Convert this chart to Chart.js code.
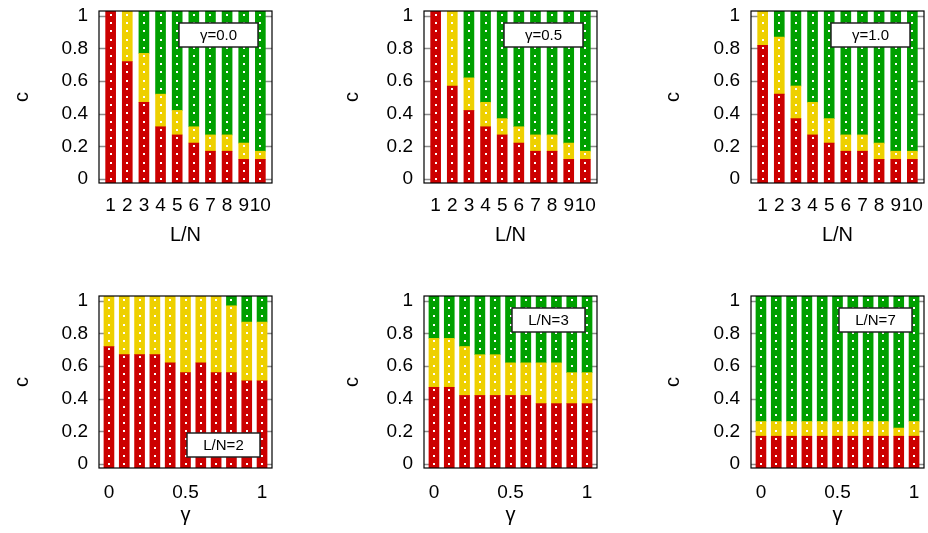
<!DOCTYPE html>
<html>
<head>
<meta charset="utf-8">
<script src="https://cdn.jsdelivr.net/npm/chart.js@4.4.1/dist/chart.umd.min.js"></script>
<style>
    body { margin: 0; background: #fff; width: 928px; height: 533px; overflow: hidden; position: relative; }
    canvas { position: absolute; }
</style>
</head>
<body>
<canvas id="p1" width="269" height="253" style="left:9px;top:0px"></canvas>
<canvas id="p2" width="269" height="253" style="left:334px;top:0px"></canvas>
<canvas id="p3" width="269" height="253" style="left:661px;top:0px"></canvas>
<canvas id="p4" width="269" height="245" style="left:9px;top:285px"></canvas>
<canvas id="p5" width="269" height="245" style="left:334px;top:285px"></canvas>
<canvas id="p6" width="269" height="245" style="left:661px;top:285px"></canvas>
<script>
const FONT = '"Liberation Sans", Arial, Helvetica, sans-serif';
const RED = "#cc0000", YELLOW = "#eed000", GREEN = "#00a000";

// ------------------- DATA -------------------
const lnValues = [1, 2, 3, 4, 5, 6, 7, 8, 9, 10];
const lnTickLabels = ["1", "2", "3", "4", "5", "6", "7", "8", "9", "10"];
const gammaValues = [0, 0.1, 0.2, 0.3, 0.4, 0.5, 0.6, 0.7, 0.8, 0.9, 1];
const gammaTicks = [0, 0.5, 1];
const gammaTickLabels = ["0", "0.5", "1"];
const yTicks = [0, 0.2, 0.4, 0.6, 0.8, 1];
const yTickLabels = ["0", "0.2", "0.4", "0.6", "0.8", "1"];

// gamma = 0.0
const g00Red    = [1.00, 0.72, 0.47, 0.32, 0.27, 0.22, 0.17, 0.17, 0.12, 0.12];
const g00Yellow = [0.00, 0.28, 0.30, 0.20, 0.15, 0.10, 0.10, 0.10, 0.10, 0.05];
const g00Green  = [0.00, 0.00, 0.23, 0.48, 0.58, 0.68, 0.73, 0.73, 0.78, 0.83];
// gamma = 0.5
const g05Red    = [1.00, 0.57, 0.42, 0.32, 0.27, 0.22, 0.17, 0.17, 0.12, 0.12];
const g05Yellow = [0.00, 0.43, 0.20, 0.15, 0.10, 0.10, 0.10, 0.10, 0.10, 0.05];
const g05Green  = [0.00, 0.00, 0.38, 0.53, 0.63, 0.68, 0.73, 0.73, 0.78, 0.83];
// gamma = 1.0
const g10Red    = [0.82, 0.52, 0.37, 0.27, 0.22, 0.17, 0.17, 0.12, 0.12, 0.12];
const g10Yellow = [0.18, 0.35, 0.20, 0.20, 0.15, 0.10, 0.10, 0.10, 0.05, 0.05];
const g10Green  = [0.00, 0.13, 0.43, 0.53, 0.63, 0.73, 0.73, 0.78, 0.83, 0.83];
// L/N = 2
const ln2Red    = [0.72, 0.67, 0.67, 0.67, 0.62, 0.56, 0.62, 0.56, 0.56, 0.51, 0.51];
const ln2Yellow = [0.28, 0.33, 0.33, 0.33, 0.38, 0.44, 0.38, 0.44, 0.41, 0.36, 0.36];
const ln2Green  = [0.00, 0.00, 0.00, 0.00, 0.00, 0.00, 0.00, 0.00, 0.03, 0.13, 0.13];
// L/N = 3
const ln3Red    = [0.47, 0.47, 0.42, 0.42, 0.42, 0.42, 0.42, 0.37, 0.37, 0.37, 0.37];
const ln3Yellow = [0.30, 0.30, 0.30, 0.25, 0.25, 0.20, 0.20, 0.25, 0.25, 0.19, 0.19];
const ln3Green  = [0.23, 0.23, 0.28, 0.33, 0.33, 0.38, 0.38, 0.38, 0.38, 0.44, 0.44];
// L/N = 7
const ln7Red    = [0.17, 0.17, 0.17, 0.17, 0.17, 0.17, 0.17, 0.17, 0.17, 0.17, 0.17];
const ln7Yellow = [0.09, 0.09, 0.09, 0.09, 0.09, 0.09, 0.09, 0.09, 0.09, 0.05, 0.09];
const ln7Green  = [0.74, 0.74, 0.74, 0.74, 0.74, 0.74, 0.74, 0.74, 0.74, 0.78, 0.74];

const Y_MIN = -0.025, Y_MAX = 1.03;

// ------------------- PLUGIN: gnuplot look -------------------
const gnuFrame = {
    id: "gnuFrame",
    beforeDatasetsDraw(chart) {
        const { ctx, chartArea: a, scales: { y } } = chart;
        ctx.save();
        ctx.strokeStyle = "#8c8c8c";
        ctx.lineWidth = 1.3;
        ctx.beginPath();
        for (const v of yTicks) {
            const py = Math.round(y.getPixelForValue(v)) + 0.5;
            ctx.moveTo(a.left, py); ctx.lineTo(a.left + 7, py);
            ctx.moveTo(a.right, py); ctx.lineTo(a.right - 7, py);
        }
        ctx.stroke();
        ctx.restore();
    },
    afterDatasetsDraw(chart, args, opts) {
        const { ctx, chartArea: a } = chart;
        ctx.save();
        // white dots inside the bars
        ctx.fillStyle = "#fff";
        chart.data.datasets.forEach((ds, i) => {
            chart.getDatasetMeta(i).data.forEach(el => {
                const t = Math.min(el.y, el.base), b = Math.max(el.y, el.base);
                for (let yy = a.top + 4; yy < a.bottom; yy += 8.2) {
                    if (yy >= t + 1 && yy <= b - 1) ctx.fillRect(Math.round(el.x) - 1, Math.round(yy) - 1, 2, 2);
                }
            });
        });
        // frame
        ctx.strokeStyle = "#000";
        ctx.lineWidth = 1.2;
        ctx.strokeRect(a.left, a.top, a.right - a.left, a.bottom - a.top);
        // key box
        const k = opts.key;
        const bx = a.left + k.dx, by = a.top + k.dy;
        ctx.fillStyle = "#fff";
        ctx.fillRect(bx, by, k.w, 24);
        ctx.strokeStyle = "#222";
        ctx.lineWidth = 1.5;
        ctx.strokeRect(bx, by, k.w, 24);
        ctx.fillStyle = "#000";
        ctx.font = "15px " + FONT;
        ctx.textAlign = "center";
        ctx.textBaseline = "middle";
        ctx.fillText(k.text, bx + k.w / 2, by + 13);
        ctx.restore();
    }
};

// ------------------- BUILD PANELS -------------------
function stackRanges(xs, series) {
    // turn the three stacked fractions into floating [from, to] bars
    const cum = xs.map(() => 0);
    return series.map(vals => xs.map((x, i) => {
        const from = cum[i], to = cum[i] + vals[i];
        cum[i] = to;
        if (vals[i] <= 0) return null;
        return { x, y: [from <= 0.001 ? Y_MIN : from, to >= 0.999 ? Y_MAX : to] };
    }).filter(p => p));
}

function makePanel(id, p) {
    const colors = [RED, YELLOW, GREEN];
    const ranges = stackRanges(p.xs, [p.red, p.yellow, p.green]);
    const datasets = ranges.map((data, i) => ({
        data, backgroundColor: colors[i], borderWidth: 0, barThickness: 10, grouped: false
    }));
    new Chart(document.getElementById(id), {
        type: "bar",
        data: { datasets },
        options: {
            responsive: false, animation: false, devicePixelRatio: 1,
            layout: { padding: { top: 11, left: 0, right: 6, bottom: 0 } },
            plugins: { legend: { display: false }, tooltip: { enabled: false }, gnuFrame: { key: p.key } },
            scales: {
                x: {
                    type: "linear", min: p.xMin, max: p.xMax, offset: false,
                    afterBuildTicks: s => { s.ticks = p.ticks.map(v => ({ value: v })); },
                    afterFit: s => { s.height = p.xH; s.paddingLeft = 0; s.paddingRight = 0; },
                    grid: { display: false, drawTicks: false }, border: { display: false },
                    ticks: {
                        autoSkip: false, maxRotation: 0, minRotation: 0, padding: p.xPad, color: "#000",
                        font: { family: FONT, size: 19 },
                        callback: (v, i) => p.tickLabels[i]
                    },
                    title: { display: true, text: p.xTitle, color: "#000", font: { family: FONT, size: 20 }, padding: { top: 0, bottom: p.xTitlePad } }
                },
                y: {
                    min: Y_MIN, max: Y_MAX,
                    afterBuildTicks: s => { s.ticks = yTicks.map(v => ({ value: v })); },
                    afterFit: s => { s.width = 90; s.paddingTop = 0; s.paddingBottom = 0; },
                    grid: { display: false, drawTicks: false }, border: { display: false },
                    ticks: { padding: 11, color: "#000", font: { family: FONT, size: 19 }, callback: (v, i) => yTickLabels[i] },
                    title: { display: true, text: "c", color: "#000", font: { family: FONT, size: 20 }, padding: { top: p.yTitlePad, bottom: 0 } }
                }
            }
        },
        plugins: [gnuFrame]
    });
}

const topRow = { xs: lnValues, xMin: 0.3, xMax: 10.7, ticks: lnValues, tickLabels: lnTickLabels, xTitle: "L/N", xH: 70, xPad: 11, xTitlePad: 6 };
const bottomRow = { xs: gammaValues, xMin: -0.065, xMax: 1.065, ticks: gammaTicks, tickLabels: gammaTickLabels, xTitle: "γ", xH: 62, xPad: 13, xTitlePad: 3 };

makePanel("p1", { ...topRow, red: g00Red, yellow: g00Yellow, green: g00Green, yTitlePad: 1, key: { text: "γ=0.0", dx: 80, dy: 12, w: 79 } });
makePanel("p2", { ...topRow, red: g05Red, yellow: g05Yellow, green: g05Green, yTitlePad: 6, key: { text: "γ=0.5", dx: 80, dy: 12, w: 79 } });
makePanel("p3", { ...topRow, red: g10Red, yellow: g10Yellow, green: g10Green, yTitlePad: 0, key: { text: "γ=1.0", dx: 80, dy: 12, w: 79 } });
makePanel("p4", { ...bottomRow, red: ln2Red, yellow: ln2Yellow, green: ln2Green, yTitlePad: 1, key: { text: "L/N=2", dx: 88, dy: 137, w: 73 } });
makePanel("p5", { ...bottomRow, red: ln3Red, yellow: ln3Yellow, green: ln3Green, yTitlePad: 6, key: { text: "L/N=3", dx: 88, dy: 12, w: 73 } });
makePanel("p6", { ...bottomRow, red: ln7Red, yellow: ln7Yellow, green: ln7Green, yTitlePad: 0, key: { text: "L/N=7", dx: 88, dy: 12, w: 73 } });
</script>
</body>
</html>
